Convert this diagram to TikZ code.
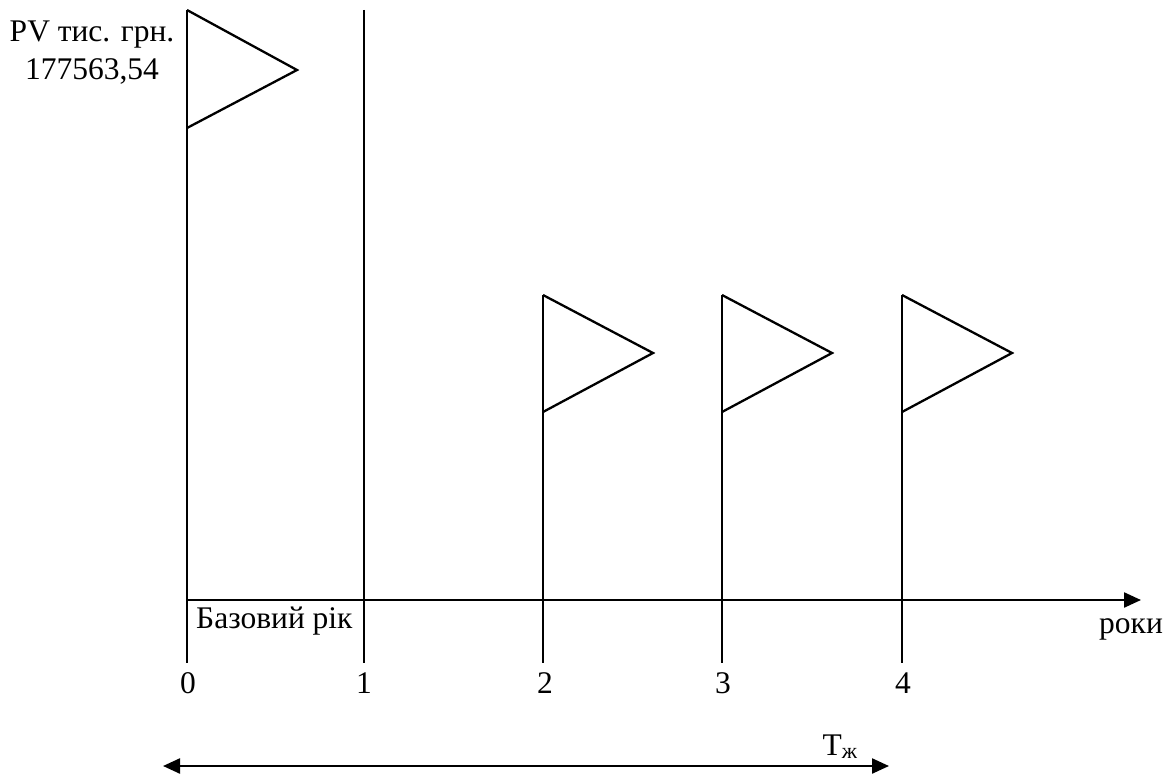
\documentclass[tikz,border=0pt]{standalone}
\usepackage{fontspec}
\setmainfont{Liberation Serif}
\usetikzlibrary{arrows.meta}
\begin{document}
\begin{tikzpicture}[x=1pt,y=-1pt,
  ln/.style={line width=2.3pt,line cap=butt},
  flag/.style={line width=2.3pt,line join=miter},
  axarrow/.style={-{Triangle[length=17pt,width=15pt]}},
  lbl/.style={font=\fontsize{31.5}{38}\selectfont,inner sep=0pt}]
\useasboundingbox (0,0) rectangle (1172,776);
% axes
\coordinate (o) at (187,600);
\coordinate (xend) at (1141,600);
\coordinate (y0top) at (187,10);
\coordinate (y0bot) at (187,663);
\draw[ln] (y0top) -- (y0bot);
\draw[ln,axarrow] (o) -- (xend);
% year 1 line
\coordinate (y1top) at (364,10);
\coordinate (y1bot) at (364,663);
\draw[ln] (y1top) -- (y1bot);
% flag at 0
\coordinate (f0a) at (187,10);
\coordinate (f0b) at (297,70);
\coordinate (f0c) at (187,128);
\draw[flag] (f0a) -- (f0b) -- (f0c);
% flags at 2,3,4
\foreach \n/\x in {2/543,3/722,4/902}{
  \coordinate (p\n top) at (\x,295);
  \coordinate (p\n bot) at (\x,663);
  \coordinate (p\n apex) at (\x+110,353);
  \coordinate (p\n low) at (\x,412);
  \draw[ln] (p\n top) -- (p\n bot);
  \draw[flag] (p\n top) -- (p\n apex) -- (p\n low);
}
% labels
\node[lbl,align=center,anchor=base] (pv) at (92,80) {PV тис. грн.\\177563,54};
\node[lbl,anchor=base west] (base) at (196,628) {Базовий рік};
\node[lbl,anchor=base west] (roky) at (1099,633) {роки};
\node[lbl,anchor=base] (n0) at (188,693) {0};
\node[lbl,anchor=base] (n1) at (364,693) {1};
\node[lbl,anchor=base] (n2) at (545,693) {2};
\node[lbl,anchor=base] (n3) at (723,693) {3};
\node[lbl,anchor=base] (n4) at (903,693) {4};
\node[lbl,anchor=base] (tzh) at (840,755) {T\textsubscript{ж}};
% lifetime arrow
\coordinate (la) at (163,766);
\coordinate (lb) at (889,766);
\draw[ln,{Triangle[length=17pt,width=15pt]}-{Triangle[length=17pt,width=15pt]}] (la) -- (lb);
\end{tikzpicture}
\end{document}
